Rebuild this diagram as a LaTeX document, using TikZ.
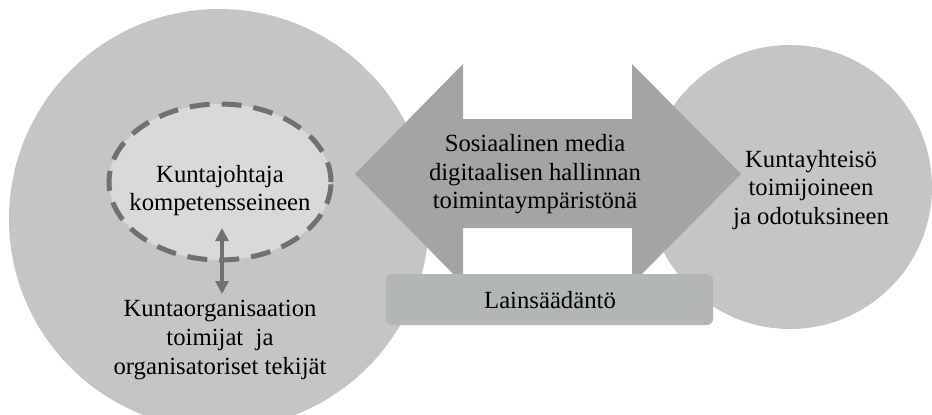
\documentclass[tikz,border=0pt]{standalone}
\usepackage{fontspec}
\setmainfont{Liberation Serif}
\usetikzlibrary{shapes.geometric,arrows.meta}
\definecolor{circgray}{HTML}{C6C5C3}
\definecolor{arrowgray}{HTML}{A4A4A4}
\definecolor{boxgray}{HTML}{B3B6B7}
\definecolor{ellfill}{HTML}{D8D9D9}
\definecolor{dashgray}{HTML}{6F7174}
\begin{document}
\begin{tikzpicture}[x=1pt,y=-1pt,
  label text/.style={align=center,inner sep=0pt,text=black,
    font=\fontsize{24.7}{28.6}\selectfont},
  area/.style={circle,fill=circgray,inner sep=0pt},
  core/.style={ellipse,fill=ellfill,draw=dashgray,line width=5pt,
    dash pattern=on 20pt off 12pt,inner sep=0pt},
  lawbox/.style={rectangle,rounded corners=6pt,fill=boxgray,inner sep=0pt},
  link/.style={draw=dashgray,line width=4pt,
    {Triangle[width=13pt,length=13pt]}-{Triangle[width=13pt,length=13pt]}}]
\useasboundingbox (0,0) rectangle (932,415);
\begin{scope}
\clip (0,0) rectangle (932,415);
% municipal organisation and municipal community
\node[area,minimum size=420pt] (org) at (219,219) {};
\node[area,minimum size=284pt] (comm) at (790,187) {};
\end{scope}
% social media as the operating environment
\fill[arrowgray] (355,174) -- (463,64) -- (463,119) -- (632,119) -- (632,64)
  -- (741,174) -- (632,284) -- (632,228) -- (463,228) -- (463,284) -- cycle;
\node[label text] (media) at (535,174.2)
  {Sosiaalinen media\\digitaalisen hallinnan\\toimintaympäristönä};
% legislation
\node[lawbox,minimum width=327pt,minimum height=51pt] (law) at (549.5,299.5) {};
\node[label text] (lawtext) at (550,300.5) {Lainsäädäntö};
% municipal manager
\node[core,minimum width=222pt,minimum height=156pt] (mgr) at (220,182) {};
\node[label text] (mgrtext) at (220,190.7) {Kuntajohtaja\\kompetensseineen};
\coordinate (up) at (222,228);
\coordinate (down) at (222,294);
\draw[link] (up) -- (down);
\node[label text] (orgtext) at (220,340)
  {Kuntaorganisaation\\toimijat\ \ ja\\organisatoriset tekijät};
\node[label text] (commtext) at (811,189.7)
  {Kuntayhteisö\\toimijoineen\\ja odotuksineen};
\end{tikzpicture}
\end{document}
